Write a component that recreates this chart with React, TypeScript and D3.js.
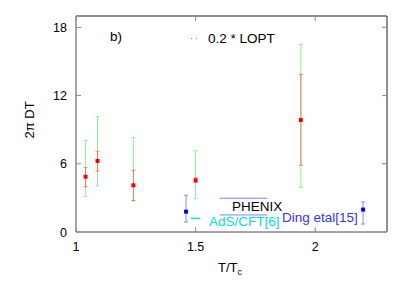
import React from "react";
import * as d3 from "d3";

const xTicks = [1, 1.5, 2];
const yTicks = [0, 6, 12, 18];

// LOPT-scaled points (red) with two error ranges
const lattT = [1.04, 1.09, 1.24, 1.5, 1.94];
const lattVal = [4.86, 6.25, 4.11, 4.55, 9.85];
const redLo = [3.98, 5.37, 2.75, 4.35, 5.87];
const redHi = [5.66, 7.1, 5.43, 4.75, 13.87];
const greenLo = [3.14, 4.05, 2.75, 2.93, 3.93];
const greenHi = [8.07, 10.14, 8.3, 7.15, 16.51];

// Ding et al points (blue)
const dingT = [1.46, 2.2];
const dingVal = [1.79, 1.97];
const dingLo = [0.88, 0.7];
const dingHi = [3.23, 2.64];

// PHENIX band and AdS/CFT sample
const phenixT = [1.6, 1.8];
const phenixBand = [1.5, 2.97];
const adsT = [1.48, 1.52];
const adsVal = [1.2];

const W = 415, H = 291;
const L = 76, R = 387, T = 16, B = 232;

export default function App() {
  const x = d3.scaleLinear().domain([1, 2.3]).range([L, R]);
  const y = d3.scaleLinear().domain([0, 19]).range([B, T]);
  const font = "'Liberation Sans', Arial, Helvetica, sans-serif";
  const cap = 2;
  const fs = 13.5;

  const errBar = (xv: number, lo: number, hi: number, color: string, key: string) => (
    <g key={key} stroke={color} strokeWidth={1}>
      <line x1={x(xv)} x2={x(xv)} y1={y(lo)} y2={y(hi)} />
      <line x1={x(xv) - cap} x2={x(xv) + cap} y1={y(lo)} y2={y(lo)} />
      <line x1={x(xv) - cap} x2={x(xv) + cap} y1={y(hi)} y2={y(hi)} />
    </g>
  );

  return (
    <svg width={W} height={H} style={{ position: "absolute", left: 0, top: 0, background: "#fff" }} fontFamily={font}>
      {/* frame */}
      <line x1={L} x2={R} y1={T} y2={T} stroke="#222" strokeWidth={1} />
      <line x1={R} x2={R} y1={T} y2={B} stroke="#222" strokeWidth={1} />
      <line x1={L} x2={L} y1={T} y2={B} stroke="#888" strokeWidth={1.5} />
      <line x1={L} x2={R} y1={B} y2={B} stroke="#888" strokeWidth={1.5} />

      {/* ticks */}
      {yTicks.map((t) => (
        <g key={"y" + t}>
          <line x1={L} x2={L + 5} y1={y(t)} y2={y(t)} stroke="#888" />
          <line x1={R} x2={R - 5} y1={y(t)} y2={y(t)} stroke="#888" />
          <text x={67} y={y(t) + 4.5} textAnchor="end" fontSize={12.5} fill="#000">{t}</text>
        </g>
      ))}
      {xTicks.map((t) => (
        <g key={"x" + t}>
          <line x1={x(t)} x2={x(t)} y1={B} y2={B - 5} stroke="#888" />
          <line x1={x(t)} x2={x(t)} y1={T} y2={T + 5} stroke="#888" />
          <text x={x(t)} y={251} textAnchor="middle" fontSize={12.5} fill="#000">{t}</text>
        </g>
      ))}

      {/* axis labels */}
      <text x={218} y={272} fontSize={13} fill="#000">T/T<tspan fontSize={9} dy={3}>c</tspan></text>
      <text transform={`translate(34,120) rotate(-90)`} textAnchor="middle" fontSize={13} fill="#000">2π DT</text>

      {/* annotations */}
      <text x={110} y={41} fontSize={fs} fill="#000">b)</text>
      <line x1={191} x2={198} y1={38.5} y2={38.5} stroke="#888" strokeWidth={1} strokeDasharray="1,4" />
      <text x={208} y={43} fontSize={fs} fill="#000">0.2 * LOPT</text>

      {/* PHENIX band */}
      {phenixBand.map((v, i) => (
        <line key={"ph" + i} x1={x(phenixT[0])} x2={x(phenixT[1])} y1={y(v)} y2={y(v)} stroke="#8080ff" strokeWidth={1} />
      ))}
      <text x={232} y={211} fontSize={fs} fill="#000">PHENIX</text>

      {/* AdS/CFT */}
      <line x1={x(adsT[0])} x2={x(adsT[1])} y1={y(adsVal[0])} y2={y(adsVal[0])} stroke="#00e8e8" strokeWidth={1.5} />
      <text x={209} y={226} fontSize={fs} fill="#00e0e0">AdS/CFT[6]</text>

      {/* error bars */}
      {lattT.map((t, i) => errBar(t, greenLo[i], greenHi[i], "#90ee90", "g" + i))}
      {lattT.map((t, i) => errBar(t, redLo[i], redHi[i], "rgba(240,90,90,0.75)", "r" + i))}
      {lattT.map((t, i) => (
        <rect key={"p" + i} x={x(t) - 2} y={y(lattVal[i]) - 2} width={4} height={4} fill="#ff0000" />
      ))}

      {dingT.map((t, i) => errBar(t, dingLo[i], dingHi[i], "#8888ff", "d" + i))}
      {dingT.map((t, i) => (
        <rect key={"dp" + i} x={x(t) - 2} y={y(dingVal[i]) - 2} width={4} height={4} fill="#0000ff" />
      ))}
      <text x={282} y={222} fontSize={fs} fill="#3333ff">Ding etal[15]</text>
    </svg>
  );
}
